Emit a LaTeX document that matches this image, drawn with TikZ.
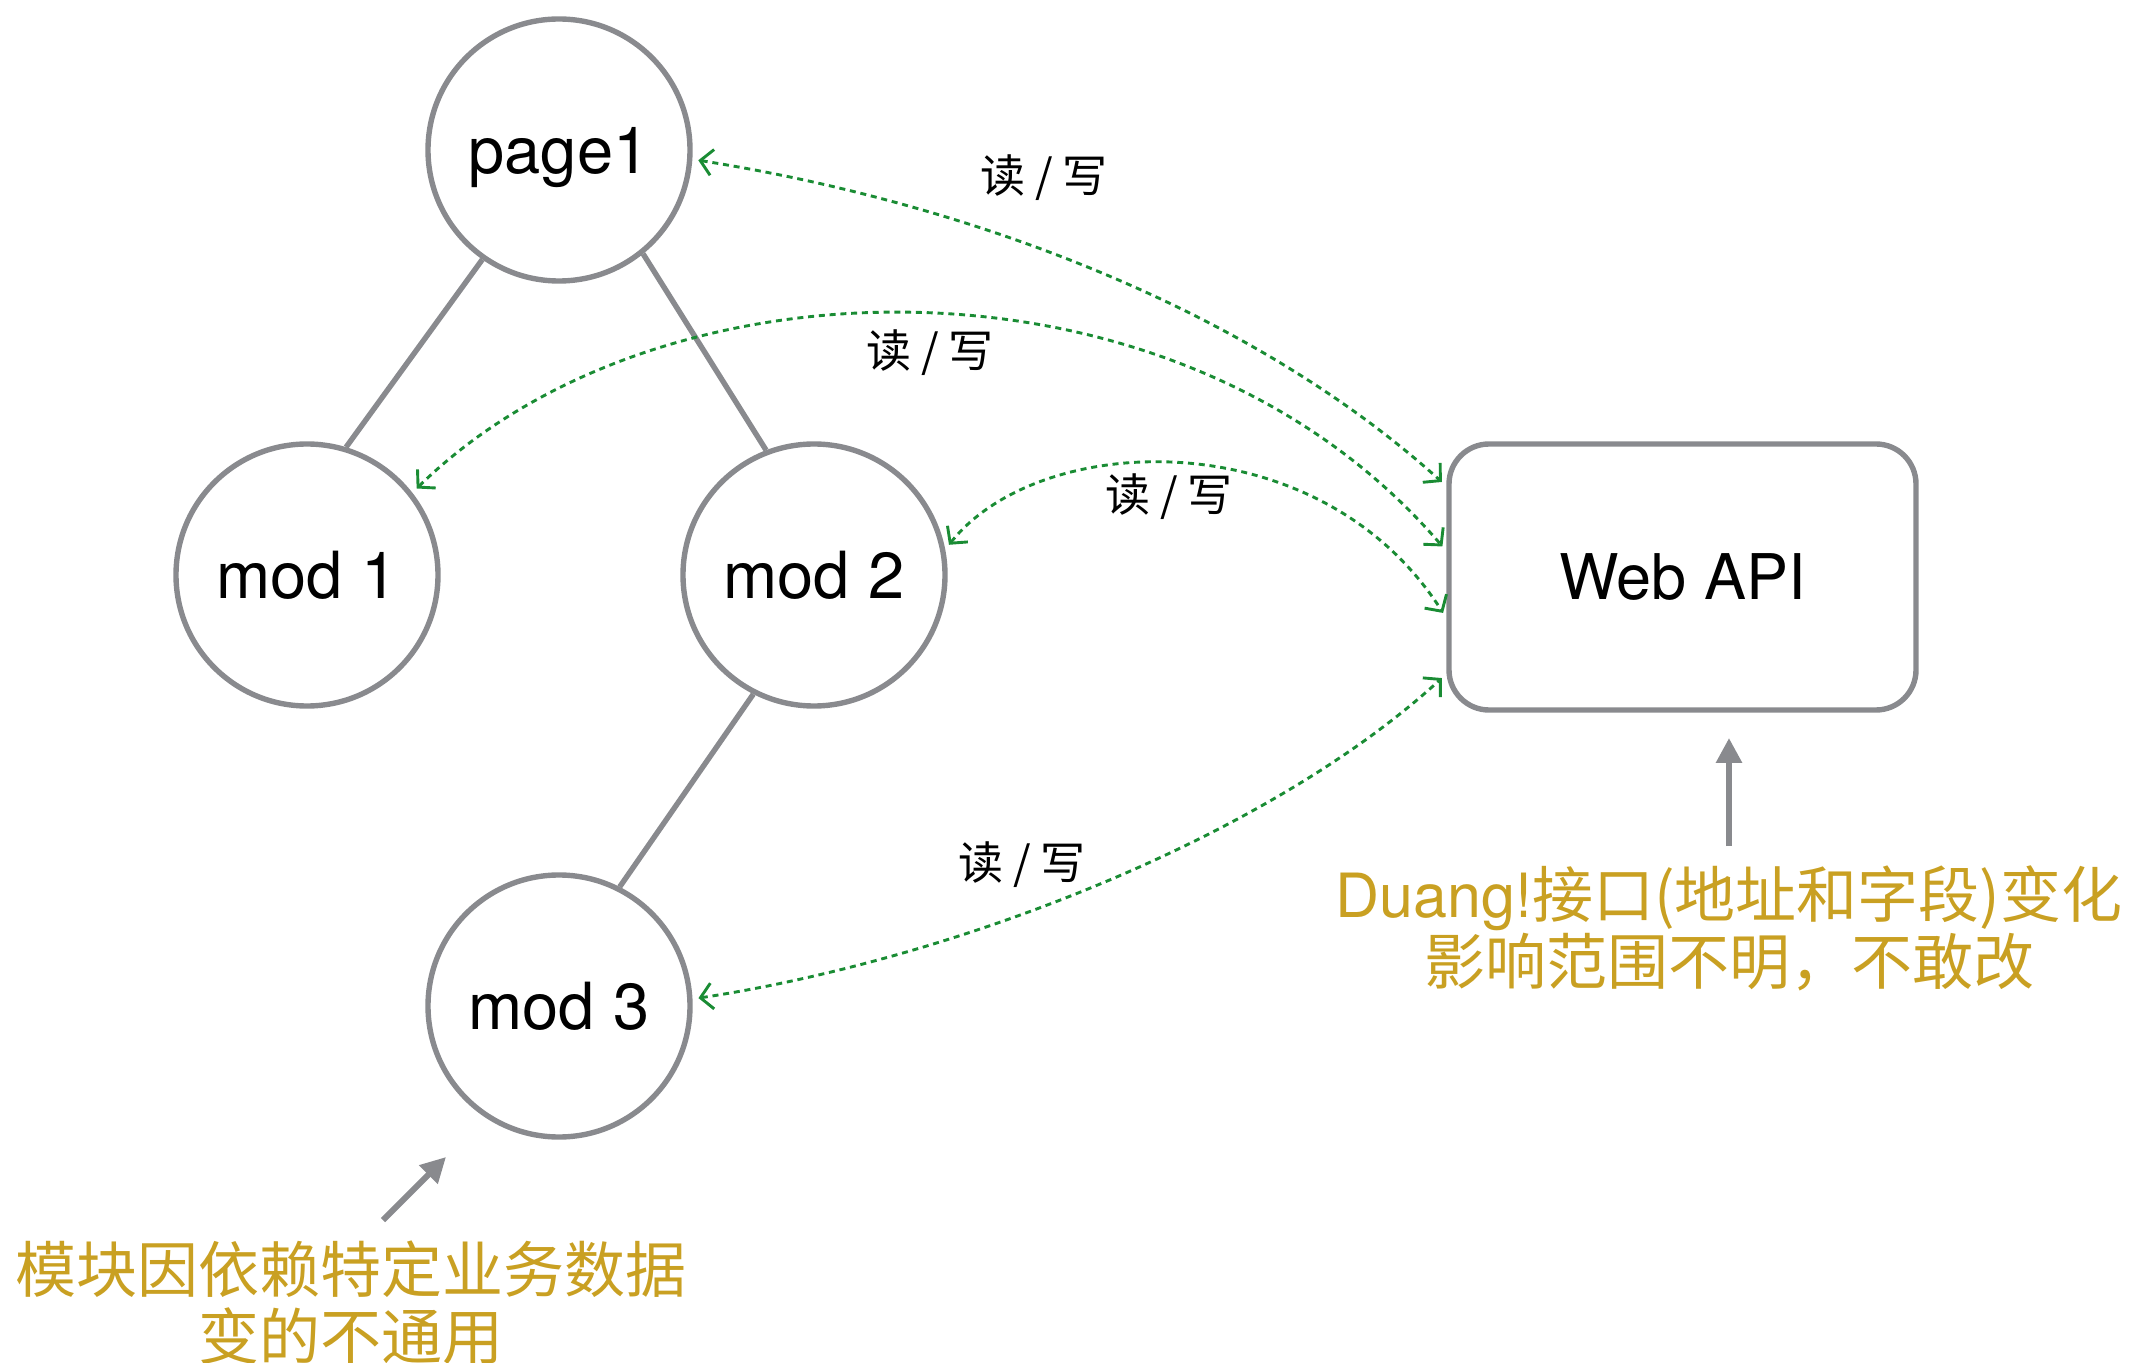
\documentclass[tikz,border=0pt]{standalone}
\usepackage{fontspec}
\setmainfont{TeX Gyre Heros}
\newfontfamily\cjk{Noto Sans CJK SC}
\usetikzlibrary{arrows.meta}
\definecolor{edgegray}{HTML}{898A8E}
\definecolor{rwgreen}{HTML}{1A8C34}
\definecolor{notegold}{HTML}{C9A022}

\begin{document}
\begin{tikzpicture}[x=0.5pt,y=-0.5pt,
  modnode/.style={circle, draw=edgegray, line width=2.7pt, minimum size=131pt,
    inner sep=0pt, text height=23.4pt, text depth=0pt, font=\fontsize{32.5}{38}\selectfont},
  apibox/.style={rectangle, rounded corners=20pt, draw=edgegray, line width=2.7pt,
    minimum width=233.5pt, minimum height=133pt, font=\fontsize{31.5}{36}\selectfont},
  treeedge/.style={draw=edgegray, line width=2.7pt},
  rwlink/.style={draw=rwgreen, line width=1.45pt, dash pattern=on 3pt off 2.4pt,
    {Straight Barb[length=6pt,width=13pt,line width=1.45pt]}-{Straight Barb[length=6pt,width=13pt,line width=1.45pt]},
    shorten <=3pt, shorten >=3pt},
  rwlabel/.style={font=\cjk\fontsize{22.5}{26}\selectfont},
  pointer/.style={draw=edgegray, line width=3pt, -{Triangle[length=12.5pt,width=12.5pt]}},
  note/.style={text=notegold, align=center, font=\cjk\fontsize{30.5}{33.5}\selectfont}]

  \useasboundingbox (0,0) rectangle (2132,1363);

  % page and modules
  \node[modnode] (page1) at (559,150) {page1};
  \node[modnode] (mod1) at (307,575) {mod 1};
  \node[modnode] (mod2) at (814,575) {mod 2};
  \node[modnode] (mod3) at (559,1006) {mod 3};

  % backend
  \node[apibox] (api) at (1682.5,577) {Web API};

  % module tree
  \draw[treeedge] (page1.235) -- (mod1.73);
  \draw[treeedge] (page1.-51) -- (mod2.111);
  \draw[treeedge] (mod2.243) -- (mod3.63);

  % read / write traffic
  \draw[rwlink] (page1.-4) .. controls (950,200) and (1240,300) .. ([yshift=45.5pt]api.west);
  \draw[rwlink] (mod1.38) .. controls (660,250) and (1180,240) .. ([yshift=13pt]api.west);
  \draw[rwlink] (mod2.11) .. controls (1040,430) and (1320,420) .. ([yshift=-20.5pt]api.west);
  \draw[rwlink] (mod3.3) .. controls (950,960) and (1265,840) .. ([yshift=-48.5pt]api.west);

  \node[rwlabel] (rw1) at (1044,178) {读 / 写};
  \node[rwlabel] (rw2) at (930,353) {读 / 写};
  \node[rwlabel] (rw3) at (1169,497) {读 / 写};
  \node[rwlabel] (rw4) at (1022,865) {读 / 写};

  % notes
  \node[note] (apinote) at (1729,928) {{\rmfamily Duang!}接口(地址和字段)变化\\影响范围不明，不敢改};
  \node[note] (modnote) at (351,1303) {模块因依赖特定业务数据\\变的不通用};

  \coordinate (apitail) at (1729,846);
  \coordinate (apitip) at (1729,738);
  \coordinate (modtail) at (383,1220);
  \coordinate (modtip) at (446,1157);
  \draw[pointer] (apitail) -- (apitip);
  \draw[pointer] (modtail) -- (modtip);
\end{tikzpicture}
\end{document}
